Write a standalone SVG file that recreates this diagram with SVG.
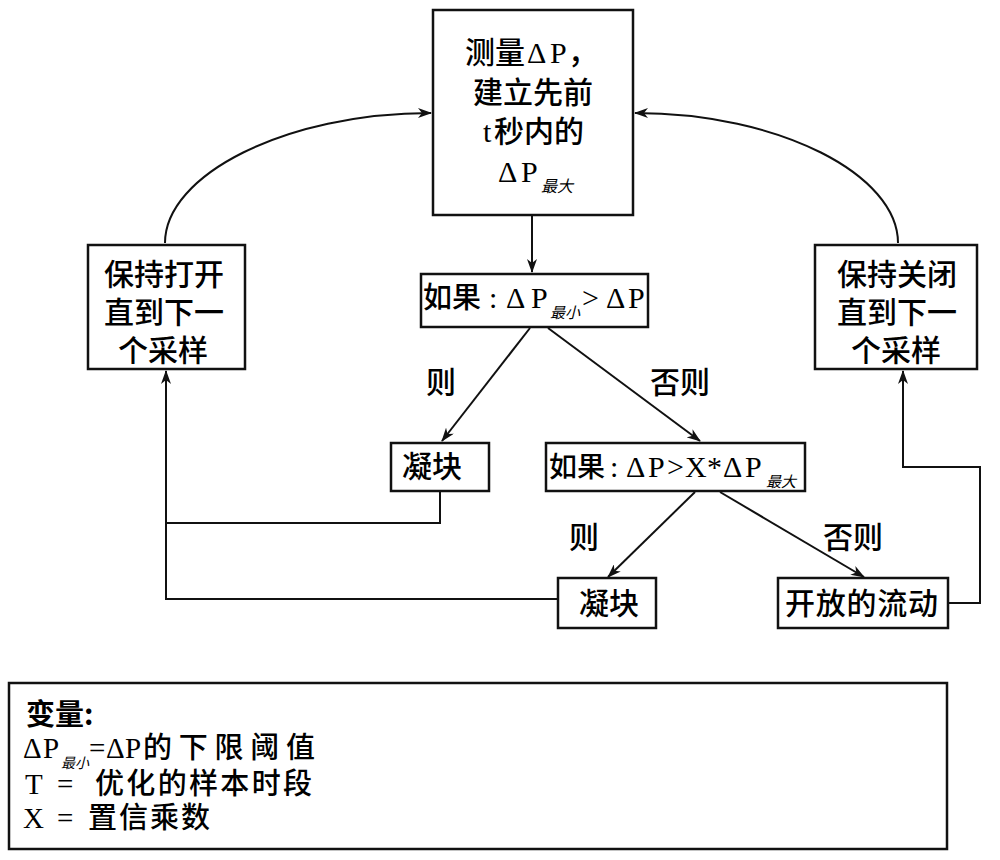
<svg xmlns="http://www.w3.org/2000/svg" width="1000" height="860" viewBox="0 0 1000 860">
<style>
.box{fill:#fff;stroke:#111;stroke-width:2.5}
.ln{fill:none;stroke:#111;stroke-width:2}
.t{font-family:"Liberation Serif","Noto Sans CJK SC",serif;font-size:30px;fill:#000}
.c{font-family:"Noto Sans CJK SC","Liberation Sans",sans-serif;font-size:30px;font-weight:500;fill:#000}
.s{font-family:"Noto Sans CJK SC","Liberation Sans",sans-serif;font-size:16px;font-style:italic;fill:#000}
.lg{font-size:29px}
</style>
<defs>
<marker id="ah" viewBox="0 0 14 10" refX="13" refY="5" markerWidth="14" markerHeight="10" markerUnits="userSpaceOnUse" orient="auto">
<path d="M0,0 L14,5 L0,10 L4,5 Z" fill="#111"/>
</marker>
</defs>
<g id="connectors">
<path class="ln" d="M165,243 C165,175 285,113 431,113" marker-end="url(#ah)"/>
<path class="ln" d="M898,243 C898,175 780,113 635,113" marker-end="url(#ah)"/>
<path class="ln" d="M532,216 L532,272" marker-end="url(#ah)"/>
<path class="ln" d="M530,328 L442,441" marker-end="url(#ah)"/>
<path class="ln" d="M548,328 L700,441" marker-end="url(#ah)"/>
<path class="ln" d="M695,492 L608,577" marker-end="url(#ah)"/>
<path class="ln" d="M720,492 L864,577" marker-end="url(#ah)"/>
<path class="ln" d="M440,491 L440,523 L166,523"/>
<path class="ln" d="M557,599 L166,599 L166,371" marker-end="url(#ah)"/>
<path class="ln" d="M948,603 L980,603 L980,467 L903,467 L903,371" marker-end="url(#ah)"/>
</g>
<g id="measure">
<rect class="box" x="433" y="10" width="200" height="205"/>
<text class="t" y="63"><tspan class="c" x="465">测量</tspan><tspan x="527">Δ</tspan><tspan x="550">P</tspan><tspan class="c" x="568">，</tspan></text>
<text class="c" x="473" y="103">建立先前</text>
<text class="t" y="142"><tspan x="483">t</tspan><tspan class="c" x="494">秒内的</tspan></text>
<text class="t" y="182"><tspan x="498">Δ</tspan><tspan x="521">P</tspan><tspan class="s" x="541" y="192">最大</tspan></text>
</g>
<g id="hold-open">
<rect class="box" x="88" y="245" width="157" height="124"/>
<text class="c" x="104" y="285">保持打开</text>
<text class="c" x="104" y="323">直到下一</text>
<text class="c" x="118" y="361">个采样</text>
</g>
<g id="hold-closed">
<rect class="box" x="815" y="245" width="162" height="124"/>
<text class="c" x="837" y="285">保持关闭</text>
<text class="c" x="837" y="323">直到下一</text>
<text class="c" x="851" y="361">个采样</text>
</g>
<g id="if1">
<rect class="box" x="421" y="274" width="227" height="53"/>
<text class="t" y="308"><tspan class="c" x="423" style="font-size:29px">如果</tspan><tspan x="489">:</tspan><tspan x="506">Δ</tspan><tspan x="531">P</tspan><tspan class="s" x="550" y="318" style="font-size:15px">最小</tspan><tspan x="582" y="308">&gt;</tspan><tspan x="606">Δ</tspan><tspan x="628">P</tspan></text>
</g>
<g id="labels">
<text class="c" x="426" y="393">则</text>
<text class="c" x="650" y="393">否则</text>
<text class="c" x="569" y="548">则</text>
<text class="c" x="823" y="548">否则</text>
</g>
<g id="clot1">
<rect class="box" x="391" y="443" width="98" height="48"/>
<text class="c" x="402" y="477">凝块</text>
</g>
<g id="if2">
<rect class="box" x="546" y="443" width="259" height="48"/>
<text class="t" y="477"><tspan class="c" x="549" style="font-size:28px">如果</tspan><tspan x="610">:</tspan><tspan x="626">Δ</tspan><tspan x="648">P</tspan><tspan x="667">&gt;</tspan><tspan x="685">X</tspan><tspan x="707">*</tspan><tspan x="723">Δ</tspan><tspan x="745">P</tspan><tspan class="s" x="766" y="487" style="font-size:15px">最大</tspan></text>
</g>
<g id="clot2">
<rect class="box" x="558" y="578" width="98" height="50"/>
<text class="c" x="579" y="614">凝块</text>
</g>
<g id="open-flow">
<rect class="box" x="778" y="578" width="170" height="50"/>
<text class="c" x="785" y="614" textLength="153" lengthAdjust="spacing">开放的流动</text>
</g>
<g id="legend">
<rect class="box" x="9" y="683" width="938" height="166"/>
<text class="c lg" x="26" y="725" style="font-weight:bold">变量:</text>
<text class="t lg" y="758"><tspan x="23">Δ</tspan><tspan x="43">P</tspan><tspan class="s" x="61" y="768" style="font-size:14px">最小</tspan><tspan x="89" y="758">=</tspan><tspan x="106">Δ</tspan><tspan x="125">P</tspan><tspan class="c lg" x="143" textLength="172" lengthAdjust="spacing">的下限阈值</tspan></text>
<text class="t lg" y="794"><tspan x="25">T</tspan><tspan x="57">=</tspan><tspan class="c lg" x="95" textLength="217" lengthAdjust="spacing">优化的样本时段</tspan></text>
<text class="t lg" y="828"><tspan x="23">X</tspan><tspan x="57">=</tspan><tspan class="c lg" x="88" textLength="122" lengthAdjust="spacing">置信乘数</tspan></text>
</g>
</svg>
